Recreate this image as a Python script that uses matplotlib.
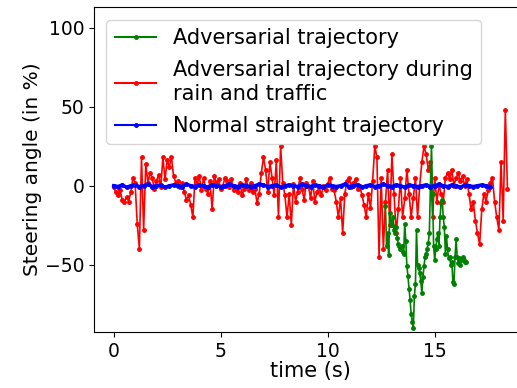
import numpy as np
import matplotlib
matplotlib.use("Agg")
import matplotlib.pyplot as plt

# Steering angle readings (in %)
red_vals = [
    -1, -4, -6, -3, -9, -10, -7, -10, -4, 5,
    2, -24, -40, 18, -28, 14, 2, 8, 5, -2,
    3, 7, -1, 18, 4, 16, 12, 18, 6, 2,
    3, -1, 2, -4, -9, -6, -12, -20, 5, 1,
    6, -3, 5, -2, -5, 3, -15, 6, 2, 4,
    -2, 0, 5, 3, -1, 4, -3, -1, -4, 2,
    -6, -2, 4, -3, 2, -4, -2, -11, -5, 8,
    18, 10, -4, 15, 5, -6, 16, -20, 25, 2,
    -6, -20, -5, -25, 1, -10, -4, 5, -2, -9,
    2, 0, -8, 3, -10, -4, -1, -6, 0, -3,
    1, 5, -2, -3, -10, -20, -8, -30, -5, 3,
    5, -1, 2, 4, -2, 0, -6, -12, -20, -5,
    -14, 3, 25, 18, -45, 5, -40, -10, 10, -25,
    20, -5, -30, -15, 5, -20, -8, 10, -5, -20,
    -8, 5, -20, 0, 15, 25, 20, 10, 15, -20,
    5, -10, 0, -5, -10, 5, 8, 4, 10, 0,
    5, 8, 3, 6, 0, 4, -5, -15, -10, -22,
    -30, -37, -15, -5, -10, -3, 2, 5, -10, -20,
    -28, 15, -22, 48, -2,
]
red_t = np.linspace(0, 18.4, len(red_vals))

green_vals = [
    -13, -38, -30, -44, -17, -22, -25, -20, -28, -30,
    -26, -33, -37, -38, -40, -38, -42, -43, -24, -35,
    -51, -57, -65, -72, -81, -86, -90, -70, -62, -28,
    -50, -52, -55, -60, -68, -58, -51, -45, -43, -40,
    -36, -30, -1, 25, -5, -38, -47, -40, -34, -30,
    -38, -20, -11, -9, -20, -26, -43, -32, -40, -46,
    -45, -50, -48, -61, -62, -45, -34, -45, -49, -46,
    -50, -47, -45, -47, -48, -48,
]
green_t = np.linspace(12.7, 16.45, len(green_vals))

blue_vals = [
    0, -0.5, 0.5, -1, 0, 0.5, -0.5, 0, 1, -0.5,
    0, 0.5, -1, 0, 0.5, 0, -0.5, 1, 0, -0.5,
    0.5, 0, -1, 0.5, 0, -0.5, 0, 1, 0, -0.5,
    0.5, 0, -0.5, 0, 1, 0.5, -0.5, 0, 0.5, -1,
    0, 0.5, 0, -0.5, 1, 0, -0.5, 0.5, 0, -1,
    0.5, 0, -0.5, 0, 1, -0.5, 0, 0.5, -1, 0,
    0.5, -0.5, 0, 1, 0, -0.5, 0.5, 0, -1, 0.5,
    0, -0.5, 0, 0.5, -0.5, 0, 1, 0, -0.5, 0.5,
    0, -1, 0.5, 0, -0.5, 0, 0.5, 0, -0.5,
]
blue_t = np.linspace(0, 17.6, len(blue_vals))

fig = plt.figure(figsize=(5.17, 3.88), dpi=100)
ax = fig.add_axes([0.1818, 0.1443, 0.837, 0.8376])

ax.plot(green_t, green_vals, color="green", marker=".", markersize=5,
        linewidth=1.2, label="Adversarial trajectory", zorder=2)
ax.plot(red_t, red_vals, color="red", marker=".", markersize=5,
        linewidth=1.2, label="Adversarial trajectory during\nrain and traffic", zorder=1)
ax.plot(blue_t, blue_vals, color="blue", marker=".", markersize=5,
        linewidth=2.5, label="Normal straight trajectory", zorder=3)

ax.set_xlim(-0.92, 19.3)
ax.set_ylim(-92.5, 113)
ax.set_yticks([-50, 0, 50, 100])
ax.set_xticks([0, 5, 10, 15])
ax.tick_params(labelsize=13.5)
ax.set_xlabel("time (s)", fontsize=15, labelpad=0)
ax.set_ylabel("Steering angle (in %)", fontsize=14.5, labelpad=2)

leg = ax.legend(loc="upper left", fontsize=15, handlelength=2.0,
                labelspacing=0.6, borderaxespad=0.6)
for line in leg.get_lines():
    line.set_linewidth(1.5)

fig.savefig("out.png", dpi=100)
